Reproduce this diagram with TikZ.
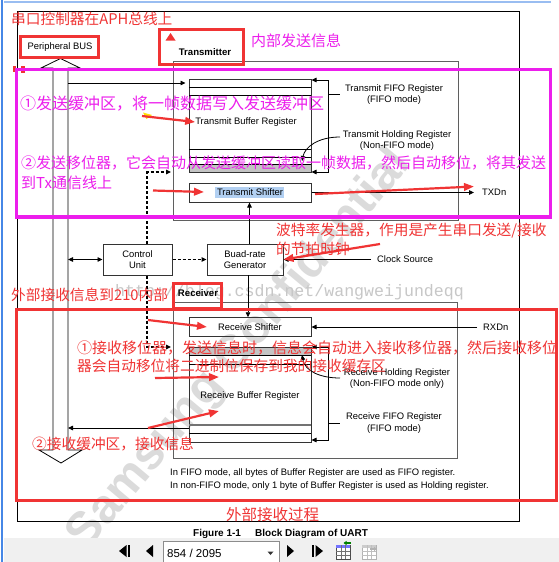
\documentclass[tikz,border=0pt]{standalone}
\usepackage{fontspec}
\setmainfont{Liberation Sans}
\newfontfamily\cjk{Noto Sans CJK SC}
\newfontfamily\wmfont{Liberation Mono}
\usetikzlibrary{arrows.meta}
\definecolor{annred}{RGB}{240,52,52}
\definecolor{annmag}{RGB}{236,30,236}
\definecolor{boxgray}{RGB}{95,95,95}
\definecolor{stripgray}{RGB}{196,196,196}
\definecolor{tbgray}{RGB}{240,240,240}
\definecolor{edgeblue}{RGB}{70,135,230}
\definecolor{selblue}{RGB}{178,208,242}
\tikzset{
  lbl/.style={font=\fontsize{9.4}{11.5}\selectfont, inner sep=0pt, align=center},
  blbl/.style={font=\fontsize{9.6}{11.5}\selectfont\bfseries, inner sep=0pt},
  blk/.style={draw=boxgray, line width=1pt},
  regbox/.style={draw=black!80, line width=1pt, inner sep=0pt},
  ln/.style={line width=0.8pt},
  conn/.style={line width=0.8pt, -{Triangle[length=5pt,width=4.5pt]}},
  dconn/.style={line width=1.2pt, dash pattern=on 3pt off 2pt, -{Triangle[length=5pt,width=4.5pt]}},
  redbox/.style={draw=annred, line width=3.2pt},
  magbox/.style={draw=annmag, line width=3.3pt},
  redarrow/.style={draw=annred, line width=2.2pt, -{Triangle[length=10pt,width=7.5pt]}},
  redtxt/.style={text=annred, font=\cjk\fontsize{14.7}{16}\selectfont, inner sep=0pt, anchor=west},
  magtxt/.style={text=annmag, font=\cjk\fontsize{15}{16}\selectfont, inner sep=0pt, anchor=west},
}
\begin{document}
\begin{tikzpicture}[x=1pt,y=-1pt]
\useasboundingbox (0,0) rectangle (559,562);
\fill[white] (0,0) rectangle (559,562);
% watermarks
\node[rotate=50, text=black!14, font=\fontsize{48}{48}\selectfont\bfseries, inner sep=0] (wmark) at (240,350) {Samsung Confidential};
\node[text=black!22, font=\wmfont\fontsize{16.6}{17}\selectfont, inner sep=0, anchor=west] (csdn) at (115,292) {http://blog.csdn.net/wangweijundeqq};
% screen edges
\draw[edgeblue, line width=1.6pt] (2,0) -- (2,562);
\draw[edgeblue!55, line width=1.2pt] (4,2) -- (551,2);
% outer frame
\draw[line width=0.9pt] (17,11) rectangle (519,521);
% bus
\draw[ln] (53,68) -- (41,68) -- (60.5,58.5) -- (80,68) -- (68,68) -- (68,450) -- (82,450) -- (61,463) -- (39,450) -- (53,450) -- cycle;
\node[lbl] (pbus) at (60,47) {Peripheral BUS};
% ---------------- transmitter
\draw[blk] (173,61) rectangle (458,220);
\node[blbl] (ttl) at (205,52) {Transmitter};
\fill[stripgray] (189,164) rectangle (311,172);
\node[regbox, minimum width=122pt, minimum height=93pt] (tbuf) at (250,125.5) {};
\draw[ln] (189,87) -- (311,87) (189,95) -- (311,95) (189,149) -- (311,149) (189,157) -- (311,157) (189,164) -- (311,164);
\node[lbl] (tbuftxt) at (246,122) {Transmit Buffer Register};
\fill[selblue] (215,187) rectangle (284,197.5);
\node[regbox, minimum width=122pt, minimum height=19pt] (tsh) at (250,192.5) {};
\node[lbl] (tshtxt) at (250,192) {Transmit Shifter};
\node[lbl] (tfifo) at (394,94.5) {Transmit FIFO Register\\(FIFO mode)};
\node[lbl] (thold) at (397,140.5) {Transmit Holding Register\\(Non-FIFO mode)};
\coordinate (tfa) at (328,80);
\coordinate (tfb) at (328,94);
\coordinate (tfbr) at (340,94);
\coordinate (thd) at (328,172);
\draw[ln] (tfb) -- (tfbr);
\draw[conn] (tfb) -- (tfa) -- (tbuf.east |- tfa);
\draw[conn] (tfb) -- (thd) -- (tbuf.east |- thd);
\coordinate (thcs) at (340,137);
\coordinate (thce) at (302,161);
\draw[conn] (thcs) .. controls (318,137) and (305,147) .. (thce);
\node[lbl, anchor=west] (txd) at (482,192.5) {TXDn};
\draw[conn, shorten >=8pt] (tsh.east) -- (txd.west);
\coordinate (b1) at (68,83);
\draw[conn, shorten >=3pt] (b1) -- (tbuf.west |- b1);
% ---------------- control / baud
\node[regbox, lbl, minimum width=69pt, minimum height=31pt] (cu) at (137.5,259.5) {Control\\Unit};
\node[regbox, lbl, minimum width=76pt, minimum height=31pt] (bg) at (245,259.5) {Buad-rate\\Generator};
\coordinate (b2) at (68,259.5);
\draw[line width=0.8pt, {Triangle[length=5pt,width=4.5pt]}-{Triangle[length=5pt,width=4.5pt]}] (b2) -- (cu.west);
\coordinate (cut) at (147,172);
\coordinate (tblkin) at (171,172);
\coordinate (cub) at (147,347);
\coordinate (rblkin) at (171,347);
\draw[dconn] (cu.north -| cut) -- (cut) -- (tblkin);
\draw[dconn] (cu.east) -- (bg.west);
\draw[dconn] (cu.south -| cub) -- (cub) -- (rblkin);
\coordinate (bgt) at (249.5,244);
\draw[conn] (bgt) -- (tsh.south -| bgt);
\coordinate (bgb) at (248,275);
\node[lbl, anchor=west] (clk) at (377,259.5) {Clock Source};
\draw[conn, shorten <=6pt] (clk.west) -- (bg.east);
% ---------------- receiver
\draw[blk] (173,302) rectangle (457,458);
\node[blbl] (rttl) at (198,293) {Receiver};
\node[regbox, minimum width=122pt, minimum height=18.5pt] (rsh) at (250,327) {};
\node[lbl] (rshtxt) at (250,327) {Receive Shifter};
\draw[conn] (bgb) -- (rsh.north -| bgb);
\fill[stripgray] (189,347) rectangle (311,355);
\node[regbox, minimum width=122pt, minimum height=95pt] (rbuf) at (250,394.5) {};
\draw[ln] (189,355) -- (311,355) (189,364) -- (311,364) (189,433) -- (311,433);
\draw[line width=1.4pt, black!55] (189,425) -- (311,425);
\node[lbl] (rbuftxt) at (250,396) {Receive Buffer Register};
\node[lbl] (rhold) at (397,378.5) {Receive Holding Register\\(Non-FIFO mode only)};
\node[lbl] (rfifo) at (394,423) {Receive FIFO Register\\(FIFO mode)};
\coordinate (rfa) at (328,347);
\coordinate (rfb) at (328,440);
\coordinate (rfc) at (328,423);
\coordinate (rfcr) at (340,423);
\draw[conn] (rfc) -- (rfa) -- (rbuf.east |- rfa);
\draw[conn] (rfc) -- (rfb) -- (rbuf.east |- rfb);
\draw[ln] (rfc) -- (rfcr);
\coordinate (rhcs) at (340,378);
\coordinate (rhce) at (302,355);
\draw[conn] (rhcs) .. controls (320,378) and (305,371) .. (rhce);
\node[lbl, anchor=west] (rxd) at (483,327) {RXDn};
\draw[conn, shorten <=6pt] (rxd.west) -- (rsh.east);
\coordinate (b3) at (68,428);
\draw[conn] (rbuf.west |- b3) -- (b3);
% notes
\node[lbl, anchor=west] (note1) at (170,473) {In FIFO mode, all bytes of Buffer Register are used as FIFO register.};
\node[lbl, anchor=west] (note2) at (170,486) {In non-FIFO mode, only 1 byte of Buffer Register is used as Holding register.};
% caption
\node[font=\fontsize{10}{10}\selectfont\bfseries, anchor=base west, inner sep=0] (fig) at (193,536.5) {Figure 1-1};
\node[font=\fontsize{10}{10}\selectfont\bfseries, anchor=base west, inner sep=0] (figt) at (255,536.5) {Block Diagram of UART};
% toolbar
\fill[tbgray] (3.5,537.5) rectangle (559,562);
\fill[black] (119,551) -- (126.5,545) -- (126.5,557) -- cycle;
\fill[black] (127.8,545) rectangle (130.2,557);
\fill[black] (146,551) -- (153,545) -- (153,557) -- cycle;
\draw[black!45, fill=white, line width=0.8pt] (163,541) rectangle (279,562);
\node[font=\fontsize{11.5}{12}\selectfont, anchor=west, inner sep=0] (page) at (167,553) {854 / 2095};
\fill[black!80] (267.5,551.5) -- (273.5,551.5) -- (270.5,555) -- cycle;
\fill[black] (287,545) -- (294,551) -- (287,557) -- cycle;
\fill[black] (311.8,545) rectangle (314.2,557);
\fill[black] (315.5,545) -- (323,551) -- (315.5,557) -- cycle;
% icon 1
\draw[black!70, fill=white, line width=0.6pt] (336,545) rectangle (350,559);
\fill[blue!55] (336,545) rectangle (350,548);
\draw[black!55, line width=0.4pt] (336,551) -- (350,551) (336,555) -- (350,555) (341,545) -- (341,559) (345.5,545) -- (345.5,559);
\draw[green!50!black, line width=1.4pt, -{Triangle[length=3pt,width=4pt]}] (351,543) -- (343.5,543);
% icon 2 (disabled)
\draw[black!30, fill=white, line width=0.6pt] (362,545) rectangle (376,559);
\fill[black!20] (362,545) rectangle (376,548);
\draw[black!25, line width=0.4pt] (362,551) -- (376,551) (362,555) -- (376,555) (367,545) -- (367,559) (371.5,545) -- (371.5,559);
\draw[black!30, line width=1.4pt, -{Triangle[length=3pt,width=4pt]}] (369.5,549) -- (377,549);
% ---------------- annotations
\node[redtxt] (a1) at (11,19) {串口控制器在APH总线上};
\draw[redbox] (20.5,36.5) rectangle (98.5,57.5);
\draw[redbox] (159.5,29.5) rectangle (243.5,64.5);
\fill[annred] (170.5,33) -- (165.5,40.5) -- (175.5,40.5) -- cycle;
\node[magtxt] (a2) at (251,41) {内部发送信息};
\fill[annred] (12.5,65.5) rectangle (16,72);
\fill[annred] (21,66) rectangle (25,72.5);
\draw[magbox] (16.7,69.5) rectangle (550.5,217);
\node[magtxt, font=\cjk\fontsize{16}{17}\selectfont] (a3) at (20,104) {①发送缓冲区，将一帧数据写入发送缓冲区};
\fill[yellow!85!orange] (143,112.5) -- (152,115) -- (146.5,119) -- cycle;
\coordinate (ra1s) at (142,116);
\draw[redarrow] (ra1s) -- (tbuftxt.west);
\node[magtxt] (a4) at (21,163) {②发送移位器，它会自动从发送缓冲区读取一帧数据，然后自动移位，将其发送};
\node[magtxt] (a5) at (21,183) {到Tx通信线上};
\coordinate (ra2s) at (153,190.5);
\coordinate (ra2e) at (204,192);
\draw[redarrow] (ra2s) -- (ra2e);
\coordinate (ra3s) at (315,194);
\coordinate (ra3e) at (474,186.5);
\draw[redarrow] (ra3s) -- (ra3e);
\node[redtxt] (a6) at (276,231) {波特率发生器，作用是产生串口发送/接收};
\node[redtxt] (a7) at (276,249) {的节拍时钟};
\coordinate (ra4s) at (380,244);
\draw[redarrow] (ra4s) -- (bg.east);
\node[redtxt] (a8) at (11,295) {外部接收信息到210内部};
\draw[redbox] (173.5,283.5) rectangle (221.5,308.5);
\draw[redbox] (16.5,309.5) rectangle (556.5,500.5);
\coordinate (ra5s) at (148,320);
\coordinate (ra5e) at (207,327);
\draw[redarrow] (ra5s) -- (ra5e);
\node[redtxt, font=\cjk\fontsize{15}{16}\selectfont] (a9) at (77,348) {①接收移位器，发送信息时，信息会自动进入接收移位器，然后接收移位};
\node[redtxt] (a10) at (77,366) {器会自动移位将二进制位保存到我的接收缓存区};
\coordinate (ra6s) at (155,378);
\coordinate (ra6e) at (219,377);
\draw[redarrow] (ra6s) -- (ra6e);
\coordinate (ra7s) at (148,428);
\coordinate (ra7e) at (219,411);
\draw[redarrow] (ra7s) -- (ra7e);
\node[redtxt] (a11) at (32,444) {②接收缓冲区，接收信息};
\node[redtxt, font=\cjk\fontsize{15.5}{16}\selectfont] (a12) at (226,515) {外部接收过程};
\end{tikzpicture}
\end{document}
